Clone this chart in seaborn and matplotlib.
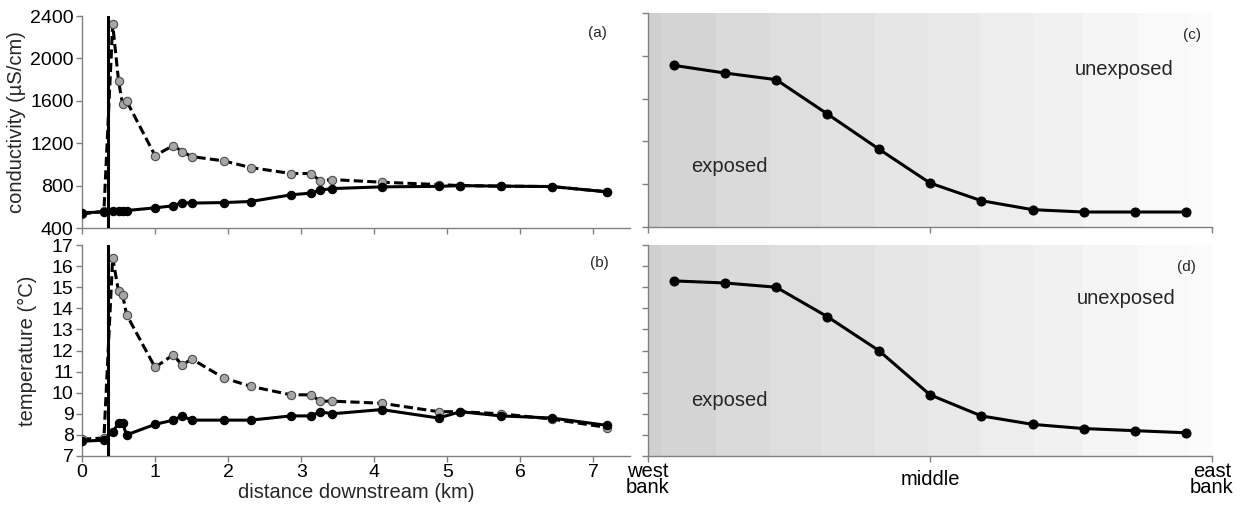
import numpy as np
import pandas as pd
import seaborn as sns
import matplotlib
matplotlib.use("Agg")
import matplotlib.pyplot as plt

# ---------------- data ----------------
dist_km = [0, 0.30, 0.42, 0.50, 0.555, 0.61, 1.0, 1.25, 1.37, 1.5, 1.94, 2.31,
           2.86, 3.13, 3.26, 3.42, 4.10, 4.88, 5.18, 5.73, 6.43, 7.19]
cond_downstream = [530, 560, 2320, 1790, 1568, 1599, 1083, 1178, 1121, 1074, 1033, 970,
                   914, 914, 845, 857, 832, 810, 800, 795, 791, 741]
cond_upstream = [545, 550, 556, 560, 565, 565, 590, 610, 640, 635, 640, 650,
                 713, 729, 757, 772, 788, 793, 800, 795, 791, 741]
temp_downstream = [7.8, 7.85, 16.4, 14.8, 14.65, 13.7, 11.2, 11.8, 11.3, 11.6, 10.7, 10.3,
                   9.9, 9.9, 9.6, 9.6, 9.5, 9.1, 9.1, 9.0, 8.75, 8.35]
temp_upstream = [7.7, 7.75, 8.15, 8.55, 8.55, 8.0, 8.5, 8.7, 8.9, 8.7, 8.7, 8.7,
                 8.9, 8.9, 9.1, 9.0, 9.2, 8.8, 9.1, 8.9, 8.8, 8.45]
outfall_km = 0.35

cross_pos = [0.5, 1.5, 2.5, 3.5, 4.5, 5.5, 6.5, 7.5, 8.5, 9.5, 10.5]
cross_cond = [1911, 1839, 1777, 1456, 1129, 811, 646, 562, 540, 540, 540]
cross_temp = [15.3, 15.2, 15.0, 13.6, 12.0, 9.9, 8.9, 8.5, 8.3, 8.2, 8.1]
cross_ticks = [0, 5.5, 11]
cross_labels = ["west\nbank", "middle", "east\nbank"]

band_edges = [0, 0.25, 1.32, 2.37, 3.38, 4.42, 5.47, 6.48, 7.52, 8.49, 9.55, 10.56, 11]
band_grays = [0.815, 0.83, 0.855, 0.87, 0.885, 0.90, 0.915, 0.93, 0.945, 0.96, 0.975, 0.985]

# ---------------- style ----------------
sns.set_theme(style="ticks")
plt.rcParams["font.family"] = ["Liberation Sans", "DejaVu Sans"]
SPINE = "#808080"

W, H = 1245, 515
fig = plt.figure(figsize=(W / 100, H / 100), dpi=100)

def fx(px):
    return px / W

def fyp(py):
    return 1 - py / H

def make_ax(left, right, top, bottom):
    ax = fig.add_axes([fx(left), 1 - bottom / H, fx(right - left), (bottom - top) / H])
    for s in ["top", "right"]:
        ax.spines[s].set_visible(False)
    for s in ["left", "bottom"]:
        ax.spines[s].set_color(SPINE)
        ax.spines[s].set_linewidth(1.0)
    ax.tick_params(axis="both", colors=SPINE, labelcolor="black", length=4,
                   width=1.0, direction="out", labelsize=14, pad=2)
    ax.set_facecolor("white")
    return ax

ax_a = make_ax(82, 630, 16, 228)
ax_b = make_ax(82, 630, 245, 456)
ax_c = make_ax(648, 1212, 13, 227)
ax_d = make_ax(648, 1212, 245, 456)

LW = 2.2
dash_pat = (3, 1.4)

def along(ax, y_dn, y_up):
    df_dn = pd.DataFrame({"x": dist_km, "y": y_dn})
    df_up = pd.DataFrame({"x": dist_km, "y": y_up})
    sns.lineplot(data=df_dn, x="x", y="y", ax=ax, sort=False, color="black",
                 lw=LW, dashes=False, linestyle=(0, dash_pat), marker="o", ms=6,
                 markerfacecolor="#a6a6a6", markeredgecolor="#4d4d4d",
                 markeredgewidth=0.8, zorder=3)
    sns.lineplot(data=df_up, x="x", y="y", ax=ax, sort=False, color="black",
                 lw=LW, marker="o", ms=6, markerfacecolor="black",
                 markeredgecolor="black", markeredgewidth=0.8, zorder=4)
    ax.axvline(outfall_km, color="black", lw=2.2, zorder=5)
    ax.set_xlim(0, 7.5)
    ax.set_xticks(range(0, 8))

along(ax_a, cond_downstream, cond_upstream)
ax_a.set_ylim(400, 2400)
ax_a.set_yticks(range(400, 2401, 400))
ax_a.set_xticklabels([])
ax_a.set_xlabel("")
ax_a.set_ylabel("conductivity (\u00b5S/cm)", fontsize=14.5, labelpad=3)

along(ax_b, temp_downstream, temp_upstream)
ax_b.set_ylim(7, 17)
ax_b.set_yticks(range(7, 18))
ax_b.set_xlabel("distance downstream (km)", fontsize=14.5, labelpad=1)
ax_b.set_ylabel("temperature (\u00b0C)", fontsize=14.5, labelpad=11)

fig.text(fx(597), fyp(33), "(a)", fontsize=11, ha="center", va="center")
fig.text(fx(599), fyp(263), "(b)", fontsize=11, ha="center", va="center")

def cross(ax, y):
    for i in range(len(band_grays)):
        ax.axvspan(band_edges[i], band_edges[i + 1], color=str(band_grays[i]),
                   lw=0, zorder=0)
    df = pd.DataFrame({"x": cross_pos, "y": y})
    sns.lineplot(data=df, x="x", y="y", ax=ax, sort=False, color="black", lw=LW,
                 marker="o", ms=6.5, markerfacecolor="black",
                 markeredgecolor="black", zorder=3)
    ax.set_xlim(0, 11)
    ax.set_xticks(cross_ticks)
    ax.set_ylabel("")
    ax.set_xlabel("")

cross(ax_c, cross_cond)
ax_c.set_ylim(400, 2400)
ax_c.set_yticks(range(400, 2401, 400))
ax_c.set_yticklabels([])
ax_c.set_xticklabels([])

cross(ax_d, cross_temp)
ax_d.set_ylim(7, 17)
ax_d.set_yticks(range(7, 18))
ax_d.set_yticklabels([])
ax_d.set_xticklabels(cross_labels, fontsize=14.5, linespacing=0.85)
for lab in ax_d.get_xticklabels():
    lab.set_verticalalignment("center")
ax_d.tick_params(axis="x", pad=13)

fig.text(fx(1192), fyp(35), "(c)", fontsize=11, ha="center", va="center")
fig.text(fx(1124), fyp(70), "unexposed", fontsize=14.5, ha="center", va="center")
fig.text(fx(729), fyp(167), "exposed", fontsize=14.5, ha="center", va="center")
fig.text(fx(1186), fyp(267), "(d)", fontsize=11, ha="center", va="center")
fig.text(fx(1126), fyp(298), "unexposed", fontsize=14.5, ha="center", va="center")
fig.text(fx(729), fyp(400), "exposed", fontsize=14.5, ha="center", va="center")

fig.savefig("out.png", dpi=100)
